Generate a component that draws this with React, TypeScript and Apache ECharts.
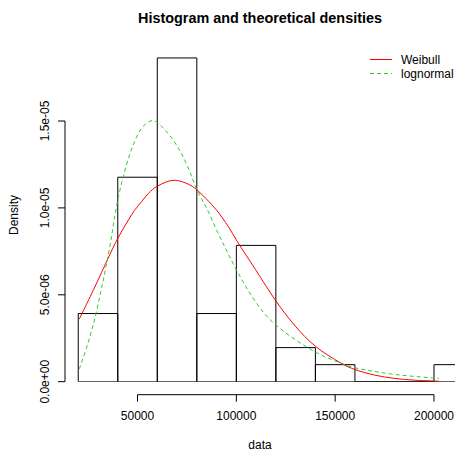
import React, { useEffect, useRef } from "react";
import * as echarts from "echarts";

const FONT = '"Liberation Sans", Arial, sans-serif';

// Histogram: bin breaks and counts (n = 51)
const breaks = [20000, 40000, 60000, 80000, 100000, 120000, 140000, 160000, 180000, 200000, 220000];
const counts = [4, 12, 19, 4, 8, 2, 1, 0, 0, 1];
const sampleSize = 51;

// Fitted Weibull density
const weibullX = [20500, 28400, 35100, 40000, 46000, 48500, 52700, 55500, 60000, 68600, 75000, 80000, 89600, 96200, 100000, 109700, 120000, 129800, 140000, 153200, 160000, 170000, 180000, 190000, 202600];
const weibullY = [3.6e-6, 5.45e-6, 7.1e-6, 8.25e-6, 9.42e-6, 9.86e-6, 10.45e-6, 10.83e-6, 11.25e-6, 11.59e-6, 11.4e-6, 11.04e-6, 9.92e-6, 8.88e-6, 8.15e-6, 6.45e-6, 4.65e-6, 3.2e-6, 2.04e-6, 1.05e-6, 0.7e-6, 0.38e-6, 0.19e-6, 0.09e-6, 0.03e-6];

// Fitted lognormal density
const lognormX = [20500, 25000, 29250, 35600, 40000, 45100, 49350, 52700, 57500, 60000, 67750, 74500, 80000, 86200, 89600, 100000, 109700, 120000, 140000, 153200, 160000, 180000, 202600];
const lognormY = [0.72e-6, 2.25e-6, 4.05e-6, 7.55e-6, 10.45e-6, 12.74e-6, 14.03e-6, 14.67e-6, 15.02e-6, 14.92e-6, 13.95e-6, 12.6e-6, 11.06e-6, 9.7e-6, 8.83e-6, 6.45e-6, 4.6e-6, 3.26e-6, 1.7e-6, 1.06e-6, 0.8e-6, 0.42e-6, 0.19e-6];

const xTicks = [50000, 100000, 150000, 200000];
const yTicks = [0, 5e-6, 1e-5, 1.5e-5];
const yTickLabels = ["0.0e+00", "5.0e-06", "1.0e-05", "1.5e-05"];

const legendNames = ["Weibull", "lognormal"];
const RED = "#ff0000";
const GREEN = "#2ecc2e";

const X_MIN = 13300;
const X_MAX = 210300;
const X_AXIS_OFFSET = 13;
const TICK_LEN = 7;

export default function App() {
  const ref = useRef<HTMLDivElement>(null);

  useEffect(() => {
    if (!ref.current) return;
    const chart = echarts.init(ref.current, undefined, { renderer: "svg" });

    const histData = counts.map((c, i) => [
      breaks[i],
      breaks[i + 1],
      c / (sampleSize * (breaks[i + 1] - breaks[i])),
    ]);

    const axisStyle = { stroke: "#000", lineWidth: 1 };

    const option: any = {
      animation: false,
      backgroundColor: "#ffffff",
      textStyle: { fontFamily: FONT },
      grid: { left: 65, right: 0, top: 34.1, bottom: 72.3, containLabel: false },
      xAxis: {
        type: "value",
        min: X_MIN,
        max: X_MAX,
        offset: X_AXIS_OFFSET,
        axisLine: { show: false },
        splitLine: { show: false },
        axisTick: { show: false },
        axisLabel: {
          show: true,
          customValues: xTicks,
          margin: 15,
          fontSize: 12,
          fontFamily: FONT,
          color: "#000",
          formatter: (v: number) => String(v),
        },
      },
      yAxis: {
        type: "value",
        min: 0,
        max: 2e-5,
        axisLine: { show: false },
        splitLine: { show: false },
        axisTick: { show: false },
        axisLabel: {
          show: true,
          customValues: yTicks,
          rotate: 90,
          margin: 14,
          fontSize: 12,
          fontFamily: FONT,
          color: "#000",
          formatter: (v: number) => {
            let best = 0;
            for (let i = 0; i < yTicks.length; i++) {
              if (Math.abs(yTicks[i] - v) < Math.abs(yTicks[best] - v)) best = i;
            }
            return yTickLabels[best];
          },
        },
      },
      graphic: [
        {
          type: "text",
          x: 260,
          y: 17.5,
          style: {
            text: "Histogram and theoretical densities",
            font: `bold 14.4px ${FONT}`,
            fill: "#000",
            align: "center",
            verticalAlign: "middle",
          },
        },
        {
          type: "text",
          x: 260,
          y: 445,
          style: {
            text: "data",
            font: `12px ${FONT}`,
            fill: "#000",
            align: "center",
            verticalAlign: "middle",
          },
        },
        {
          type: "text",
          x: 14,
          y: 215,
          rotation: Math.PI / 2,
          style: {
            text: "Density",
            font: `12px ${FONT}`,
            fill: "#000",
            align: "center",
            verticalAlign: "middle",
          },
        },
        // legend (no box)
        {
          type: "line",
          shape: { x1: 370, y1: 59.5, x2: 392, y2: 59.5 },
          style: { stroke: RED, lineWidth: 1 },
        },
        {
          type: "line",
          shape: { x1: 370, y1: 73.5, x2: 392, y2: 73.5 },
          style: { stroke: GREEN, lineWidth: 1, lineDash: [4, 3] },
        },
        {
          type: "text",
          x: 401,
          y: 59.5,
          style: {
            text: legendNames[0],
            font: `12px ${FONT}`,
            fill: "#000",
            align: "left",
            verticalAlign: "middle",
          },
        },
        {
          type: "text",
          x: 401,
          y: 74,
          style: {
            text: legendNames[1],
            font: `12px ${FONT}`,
            fill: "#000",
            align: "left",
            verticalAlign: "middle",
          },
        },
      ],
      series: [
        {
          type: "custom",
          name: "hist",
          clip: true,
          silent: true,
          encode: { x: [0, 1], y: 2 },
          data: histData,
          renderItem: (params: any, api: any) => {
            const p1 = api.coord([api.value(0), api.value(2)]);
            const p2 = api.coord([api.value(1), 0]);
            return {
              type: "rect",
              shape: { x: p1[0], y: p1[1], width: p2[0] - p1[0], height: p2[1] - p1[1] },
              style: { fill: "none", stroke: "#000", lineWidth: 1 },
            };
          },
          z: 1,
        },
        {
          type: "custom",
          name: "axes",
          clip: false,
          silent: true,
          data: [[0]],
          renderItem: (params: any, api: any) => {
            const xa = api.coord([xTicks[0], 0]);
            const xb = api.coord([xTicks[xTicks.length - 1], 0]);
            const ya = api.coord([X_MIN, yTicks[0]]);
            const yb = api.coord([X_MIN, yTicks[yTicks.length - 1]]);
            const children: any[] = [
              {
                type: "line",
                shape: { x1: xa[0], y1: xa[1] + X_AXIS_OFFSET, x2: xb[0], y2: xb[1] + X_AXIS_OFFSET },
                style: axisStyle,
              },
              {
                type: "line",
                shape: { x1: ya[0], y1: ya[1], x2: yb[0], y2: yb[1] },
                style: axisStyle,
              },
            ];
            xTicks.forEach((t) => {
              const p = api.coord([t, 0]);
              children.push({
                type: "line",
                shape: { x1: p[0], y1: p[1] + X_AXIS_OFFSET, x2: p[0], y2: p[1] + X_AXIS_OFFSET + TICK_LEN },
                style: axisStyle,
              });
            });
            yTicks.forEach((t) => {
              const p = api.coord([X_MIN, t]);
              children.push({
                type: "line",
                shape: { x1: p[0], y1: p[1], x2: p[0] - TICK_LEN, y2: p[1] },
                style: axisStyle,
              });
            });
            return { type: "group", children };
          },
          z: 1,
        },
        {
          type: "line",
          name: legendNames[0],
          data: weibullX.map((x, i) => [x, weibullY[i]]),
          showSymbol: false,
          symbol: "none",
          smooth: 0.35,
          lineStyle: { color: RED, width: 1 },
          itemStyle: { color: RED },
          z: 3,
        },
        {
          type: "line",
          name: legendNames[1],
          data: lognormX.map((x, i) => [x, lognormY[i]]),
          showSymbol: false,
          symbol: "none",
          smooth: 0.35,
          lineStyle: { color: GREEN, width: 1, type: [4, 3] },
          itemStyle: { color: GREEN },
          z: 3,
        },
      ],
    };

    chart.setOption(option);
    return () => {
      chart.dispose();
    };
  }, []);

  return (
    <div
      ref={ref}
      style={{ position: "absolute", left: 0, top: 0, width: 457, height: 454, background: "#fff" }}
    />
  );
}
